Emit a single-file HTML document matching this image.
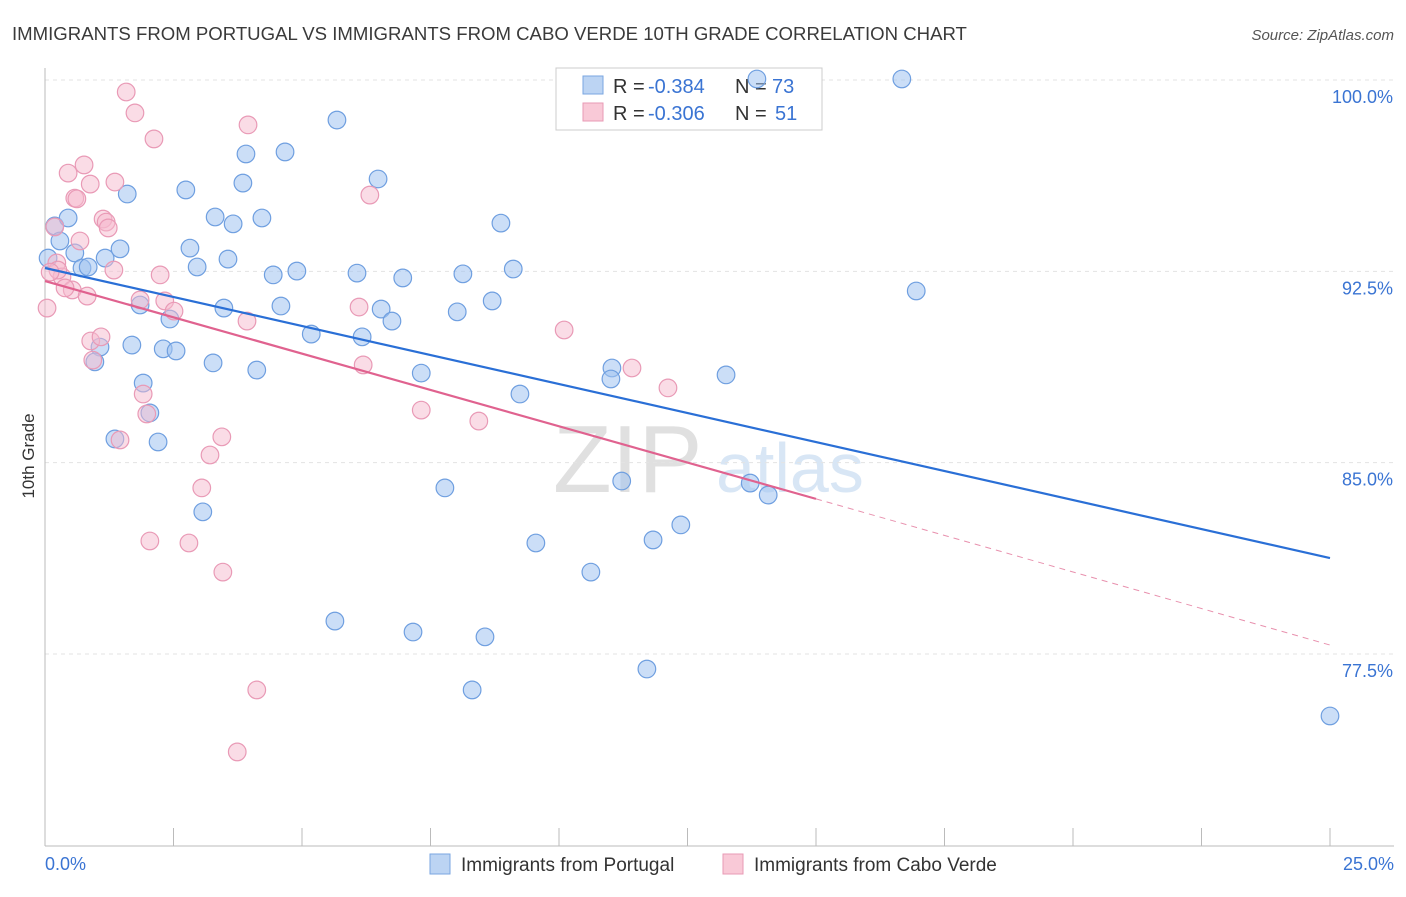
<!DOCTYPE html>
<html><head><meta charset="utf-8"><style>
body{margin:0;background:#fff;font-family:"Liberation Sans",sans-serif;}
svg text{font-family:"Liberation Sans",sans-serif;}
</style></head><body>
<svg id="chart" width="1406" height="892" viewBox="0 0 1406 892">
<text x="12" y="40" font-size="18.6" fill="#3a3a3a">IMMIGRANTS FROM PORTUGAL VS IMMIGRANTS FROM CABO VERDE 10TH GRADE CORRELATION CHART</text>
<text x="1394" y="40" font-size="15" fill="#555" font-style="italic" text-anchor="end">Source: ZipAtlas.com</text>
<text x="34" y="456" font-size="17" fill="#333" transform="rotate(-90 34 456)" text-anchor="middle">10th Grade</text>
<text x="553" y="492" font-size="96" fill="#e0e0e0" font-family="Liberation Serif">ZIP</text>
<text x="716" y="492" font-size="70" fill="#d8e6f5">atlas</text>
<g id="grid"></g><g id="axes"></g>
<g>
<rect x="556" y="68" width="266" height="62" fill="#fff" stroke="#ccc"/>
<rect x="583" y="76" width="20" height="18" fill="#bcd4f3" stroke="#7aa6e0"/>
<rect x="583" y="103" width="20" height="18" fill="#f9c9d7" stroke="#e89ab4"/>
<text x="613" y="93" font-size="20" fill="#333">R =</text>
<text x="648" y="93" font-size="20" fill="#3a74d3">-0.384</text>
<text x="735" y="93" font-size="20" fill="#333">N =</text>
<text x="772" y="93" font-size="20" fill="#3a74d3">73</text>
<text x="613" y="120" font-size="20" fill="#333">R =</text>
<text x="648" y="120" font-size="20" fill="#3a74d3">-0.306</text>
<text x="735" y="120" font-size="20" fill="#333">N =</text>
<text x="775" y="120" font-size="20" fill="#3a74d3">51</text>
</g>
<g id="pts"></g><g id="trend"></g>
<g>
<rect x="430" y="854" width="20" height="20" fill="#bcd4f3" stroke="#7aa6e0"/>
<text x="461" y="871" font-size="19" fill="#333">Immigrants from Portugal</text>
<rect x="723" y="854" width="20" height="20" fill="#f9c9d7" stroke="#e89ab4"/>
<text x="754" y="871" font-size="19" fill="#333">Immigrants from Cabo Verde</text>
</g>
</svg>
<script>
const xTicks=[0,2.5,5,7.5,10,12.5,15,17.5,20,22.5,25];
const yTicks=[100,92.5,85,77.5];
const yTickLabels=["100.0%","92.5%","85.0%","77.5%"];
const blueX=[0.19,0.45,0.29,0.58,0.72,0.84,1.17,1.46,1.60,1.85,1.91,2.04,1.36,2.20,1.69,2.30,2.55,2.43,2.74,2.82,2.96,3.27,3.07,3.31,3.56,3.66,3.48,3.85,3.91,4.22,4.12,4.44,4.59,4.67,4.90,5.18,5.68,5.64,6.07,6.17,6.48,6.54,6.75,6.96,7.16,7.32,7.78,8.02,8.13,8.31,8.56,8.70,8.87,9.11,9.24,9.55,10.62,11.03,11.01,11.22,11.71,11.83,12.37,13.25,13.72,14.07,13.85,16.67,16.95,25.0,1.07,0.97,0.06];
const blueY=[94.28,94.59,93.69,93.22,92.63,92.67,93.02,93.38,95.53,91.18,88.12,86.95,85.93,85.81,89.61,89.46,89.38,90.63,95.69,93.41,92.67,88.91,83.07,94.63,92.98,94.36,91.06,95.96,97.10,94.59,88.63,92.36,91.14,97.18,92.51,90.04,98.43,78.79,92.43,89.93,96.12,91.02,90.55,92.24,78.36,88.51,84.01,90.91,92.40,76.09,78.17,91.34,94.39,92.59,87.69,81.85,80.71,88.71,88.28,84.28,76.91,81.97,82.56,88.44,84.20,83.73,100.04,100.04,91.73,75.07,89.53,88.95,93.02];
const pinkX=[0.04,0.19,0.23,0.33,0.45,0.53,0.58,0.62,0.68,0.76,0.82,0.88,0.89,0.93,1.09,1.13,1.19,1.23,1.34,1.36,1.46,1.58,1.75,1.85,1.91,1.98,2.04,2.12,2.24,2.33,2.51,2.80,3.05,3.21,3.44,3.46,3.74,3.93,3.95,4.12,6.11,6.19,6.32,7.32,8.44,10.10,11.42,12.12,0.25,0.10,0.39];
const pinkY=[91.06,94.24,92.83,92.28,96.35,91.77,95.37,95.34,93.69,96.67,91.53,95.92,89.77,89.02,89.93,94.55,94.43,94.20,92.55,96.00,85.89,99.53,98.71,91.38,87.69,86.91,81.93,97.69,92.36,91.34,90.94,81.85,84.01,85.30,86.01,80.71,73.66,90.55,98.24,76.09,91.10,88.83,95.49,87.06,86.63,90.20,88.71,87.93,92.55,92.47,91.85];
const blueTrend=[92.63,81.26];
const pinkTrend=[92.12,83.58,77.85];
const pinkTrendX=[0,15,25];
const NS="http://www.w3.org/2000/svg";
const X=v=>45+v/25*1285;
const Y=v=>80+(100-v)*25.51;
function mk(tag,attrs,parent){const e=document.createElementNS(NS,tag);for(const k in attrs)e.setAttribute(k,attrs[k]);document.getElementById(parent).appendChild(e);return e;}
yTicks.forEach((t,i)=>{
 const g=mk('line',{x1:45,x2:1394,y1:Y(t),y2:Y(t),stroke:'#e3e3e3','stroke-dasharray':'4 4'},'grid');
 
 
 const l=mk('text',{x:1393,y:Y(t)+23,'font-size':18,fill:'#3a74d3','text-anchor':'end'},'axes');
 l.textContent=yTickLabels[i];
 
 
});
const ax=mk('line',{x1:45,x2:45,y1:68,y2:846,stroke:'#bbb'},'axes');


const bx=mk('line',{x1:45,x2:1394,y1:846,y2:846,stroke:'#bbb'},'axes');


xTicks.forEach(t=>{
 const e=mk('line',{x1:X(t),x2:X(t),y1:828,y2:846,stroke:'#bbb'},'axes');
 
 
});
const x0=mk('text',{x:45,y:870,'font-size':18,fill:'#3a74d3'},'axes');x0.textContent='0.0%';


const x1=mk('text',{x:1394,y:870,'font-size':18,fill:'#3a74d3','text-anchor':'end'},'axes');x1.textContent='25.0%';


blueX.forEach((v,i)=>{
 const c=mk('circle',{cx:X(v),cy:Y(blueY[i]),r:8.8,fill:'rgba(160,195,240,0.55)',stroke:'#6f9fe0','stroke-width':1.2},'pts');
 
 
});
pinkX.forEach((v,i)=>{
 const c=mk('circle',{cx:X(v),cy:Y(pinkY[i]),r:8.8,fill:'rgba(246,185,205,0.5)',stroke:'#e99ab6','stroke-width':1.2},'pts');
 
 
});
const bl=mk('line',{x1:X(0),y1:Y(blueTrend[0]),x2:X(25),y2:Y(blueTrend[1]),stroke:'#2a6fd6','stroke-width':2.2},'trend');


const pl=mk('line',{x1:X(pinkTrendX[0]),y1:Y(pinkTrend[0]),x2:X(pinkTrendX[1]),y2:Y(pinkTrend[1]),stroke:'#e0628f','stroke-width':2.2},'trend');


const pd=mk('line',{x1:X(pinkTrendX[1]),y1:Y(pinkTrend[1]),x2:X(pinkTrendX[2]),y2:Y(pinkTrend[2]),stroke:'#e891ae','stroke-width':1,'stroke-dasharray':'6 5'},'trend');


</script>
</body></html>
